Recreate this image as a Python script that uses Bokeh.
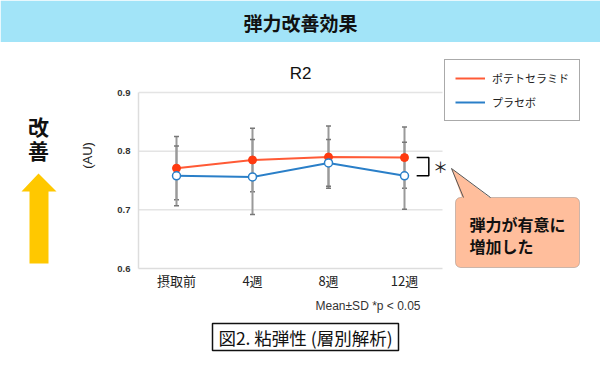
from bokeh.plotting import figure
from bokeh.layouts import column, row
from bokeh.models import (FixedTicker, Legend, LegendItem, Label, Range1d,
                          BoxAnnotation, PolyAnnotation, Arrow)
from bokeh.core.properties import value
from bokeh.embed import file_html
from bokeh.resources import INLINE

# ---- data ----
cats = ["摂取前", "4週", "8週", "12週"]
ceramide = [0.771, 0.785, 0.790, 0.789]
ceramide_sd = [0.054, 0.054, 0.053, 0.052]
placebo = [0.758, 0.756, 0.780, 0.758]
placebo_sd = [0.051, 0.064, 0.040, 0.057]
y_ticks = [0.6, 0.7, 0.8, 0.9]
series_names = ["ポテトセラミド", "プラセボ"]

JP = "Noto Sans CJK JP"
RED = "#ff5a36"
RED_M = "#ff3a10"
BLUE = "#2a7fc8"

W, H = 600, 370
HEAD_H = 42          # header band height
LEFT_W = 65          # width of the left "improvement" panel
FOOT_TOP = 295       # page y where the footer starts
FL, FT, FB = 138, 92, 268   # chart area: left, top (0.9), bottom (0.6) in page px
CAT_W = 76           # px per category
FRAME_TOP = HEAD_H   # main frame extends up to the header

xs = list(range(len(cats)))


def sx(X):
    return X - FL


def sy(Y):
    return FB - Y


def deco_fig(width, y0, y1, bottom_border=0):
    f = figure(width=width, height=y1 - y0 + bottom_border, x_range=Range1d(0, width),
               y_range=Range1d(y1, y0), output_backend="svg", toolbar_location=None,
               x_axis_type=None, y_axis_type=None, min_border=0,
               min_border_bottom=bottom_border, title=None)
    f.outline_line_color = None
    f.xgrid.visible = False
    f.ygrid.visible = False
    return f


# ---------------- header ----------------
head = deco_fig(W, 0, HEAD_H)
head.quad(left=0, right=W, top=0, bottom=HEAD_H, fill_color="#a2e4f8", line_color=None)
head.text(x=[W / 2], y=[HEAD_H / 2 + 1], text=["弾力改善効果"], text_font=value(JP),
          text_font_style="bold", text_font_size="19px", text_align="center",
          text_baseline="middle", text_color="#111111")

# ---------------- left panel (frame aligned with the chart frame) ----------------
left = deco_fig(LEFT_W, HEAD_H, FB, bottom_border=FOOT_TOP - FB)
left.text(x=[38, 38], y=[125, 149], text=["改", "善"], text_font=value(JP),
          text_font_style="bold", text_font_size="21px", text_align="center",
          text_baseline="middle", text_color="#111111")
left.patch(x=[38, 56, 48, 48, 29, 29, 21], y=[173, 191, 191, 263, 263, 191, 191],
           fill_color="#ffc800", line_color=None)

# ---------------- main chart ----------------
main_w = W - LEFT_W
main_h = FOOT_TOP - HEAD_H
frame_w = W - FL
frame_h = FB - FRAME_TOP
ppu_y = (FB - FT) / (y_ticks[-1] - y_ticks[0])
x0 = -0.5
x_end = x0 + frame_w / CAT_W
y_end = y_ticks[0] + frame_h / ppu_y

p = figure(width=main_w, height=main_h, x_range=Range1d(x0, x_end),
           y_range=Range1d(y_ticks[0], y_end), output_backend="svg",
           toolbar_location=None, min_border_left=FL - LEFT_W, min_border_right=0,
           min_border_top=0, min_border_bottom=FOOT_TOP - FB, title=None)
p.outline_line_color = None
p.xgrid.visible = False
p.ygrid.visible = False

p.yaxis.ticker = FixedTicker(ticks=y_ticks)
p.yaxis.bounds = (y_ticks[0], y_ticks[-1])
p.yaxis.axis_line_color = "#dddddd"
p.yaxis.axis_line_width = 1.5
p.yaxis.major_tick_line_color = None
p.yaxis.minor_tick_line_color = None
p.yaxis.major_tick_out = 0
p.yaxis.major_tick_in = 0
p.yaxis.major_label_text_font_size = "9.5px"
p.yaxis.major_label_text_color = "#333333"
p.yaxis.major_label_text_font = "Liberation Sans"
p.yaxis.major_label_text_font_style = "bold"
p.yaxis.major_label_standoff = 8
p.yaxis.axis_label = "(AU)"
p.yaxis.axis_label_text_font = "Liberation Sans"
p.yaxis.axis_label_text_font_style = "normal"
p.yaxis.axis_label_text_font_size = "13px"
p.yaxis.axis_label_text_color = "#222222"
p.yaxis.axis_label_standoff = 19

p.xaxis.ticker = FixedTicker(ticks=xs)
p.xaxis.major_label_overrides = {i: c for i, c in zip(xs, cats)}
p.xaxis.bounds = (x0, x0 + len(cats))
p.xaxis.axis_line_color = "#dddddd"
p.xaxis.axis_line_width = 1.5
p.xaxis.major_tick_line_color = None
p.xaxis.minor_tick_line_color = None
p.xaxis.major_tick_out = 0
p.xaxis.major_tick_in = 0
p.xaxis.major_label_text_font = JP
p.xaxis.major_label_text_font_size = "13px"
p.xaxis.major_label_text_color = "#222222"
p.xaxis.major_label_standoff = 2

# horizontal grid lines limited to the category span
grid_y = y_ticks[1:]
p.segment(x0=[x0] * len(grid_y), y0=grid_y, x1=[x0 + len(cats)] * len(grid_y), y1=grid_y,
          line_color="#e4e4e4", line_width=1.5)

# lines
r_red = p.line(xs, ceramide, line_color=RED, line_width=2)
r_blue = p.line(xs, placebo, line_color=BLUE, line_width=2)

# error bars
for vals, sds in ((ceramide, ceramide_sd), (placebo, placebo_sd)):
    lo = [v - s for v, s in zip(vals, sds)]
    hi = [v + s for v, s in zip(vals, sds)]
    p.segment(x0=xs, y0=lo, x1=xs, y1=hi, line_color="#9a9a9a", line_width=2)
    p.scatter(xs + xs, lo + hi, marker="dash", size=5, line_color="#777777",
              line_width=1.5)

# markers
p.scatter(xs, ceramide, size=8, fill_color=RED_M, line_color=RED_M)
p.scatter(xs, placebo, size=8, fill_color="white", line_color=BLUE, line_width=1.5)

# significance bracket at the last time point
bx0, bx1 = xs[-1] + 0.16, xs[-1] + 0.32
p.line(x=[bx0, bx1, bx1, bx0], y=[ceramide[-1], ceramide[-1], placebo[-1], placebo[-1]],
       line_color="black", line_width=1.5)
p.add_layout(Label(x=sx(440), y=sy(166), x_units="screen", y_units="screen",
                   text="＊", text_font=JP, text_font_size="15px",
                   text_align="center", text_baseline="middle", text_color="#222222"))

# chart title
p.add_layout(Label(x=sx(300), y=sy(73), x_units="screen", y_units="screen",
                   text="R2", text_font="Liberation Sans", text_font_size="17px",
                   text_align="center", text_baseline="middle", text_color="#111111"))

# legend
legend = Legend(items=[LegendItem(label=series_names[0], renderers=[r_red]),
                       LegendItem(label=series_names[1], renderers=[r_blue])],
                location=(sx(444), sy(121)), orientation="vertical",
                label_text_font=JP, label_text_font_size="11px",
                label_text_color="#222222",
                glyph_width=30, glyph_height=16, label_standoff=7, spacing=8,
                padding=10, margin=0,
                border_line_color="#555555", border_line_width=1,
                background_fill_color="white", background_fill_alpha=1)
p.add_layout(legend, "center")

# callout
CALL = "#ffbe9c"
p.add_layout(BoxAnnotation(left=sx(455), right=sx(579), top=sy(197), bottom=sy(267),
                           left_units="screen", right_units="screen",
                           top_units="screen", bottom_units="screen",
                           fill_color=CALL, fill_alpha=1, line_color="#555555",
                           line_width=1, border_radius=5))
p.add_layout(PolyAnnotation(xs=[sx(451), sx(462), sx(491)], ys=[sy(168), sy(198.5), sy(198.5)],
                            xs_units="screen", ys_units="screen",
                            fill_color=CALL, fill_alpha=1, line_color=None))
for (X2, Y2) in ((463, 197), (490, 197)):
    p.add_layout(Arrow(x_start=sx(451), y_start=sy(168), x_end=sx(X2), y_end=sy(Y2),
                       start_units="screen", end_units="screen", end=None,
                       line_color="#555555", line_width=1))
for txt, Y in (("弾力が有意に", 223), ("増加した", 245)):
    p.add_layout(Label(x=sx(469), y=sy(Y), x_units="screen", y_units="screen",
                       text=txt, text_font=JP, text_font_style="bold",
                       text_font_size="16px", text_align="left",
                       text_baseline="middle", text_color="#111111"))

# ---------------- footer ----------------
foot = deco_fig(W, FOOT_TOP, H)
foot.text(x=[420], y=[305], text=["Mean±SD *p < 0.05"], text_font=value("Liberation Sans"),
          text_font_size="12px", text_align="right", text_baseline="middle",
          text_color="#333333")
foot.quad(left=212, right=398, top=323, bottom=350, fill_color="white",
          line_color="#111111", line_width=1.5)
foot.text(x=[305], y=[337], text=["図2. 粘弾性 (層別解析)"], text_font=value(JP),
          text_font_size="17.5px", text_align="center", text_baseline="middle",
          text_color="#111111")

layout = column(head, row(left, p, spacing=0), foot, spacing=0)
open("out.html", "w").write(file_html(layout, INLINE))
